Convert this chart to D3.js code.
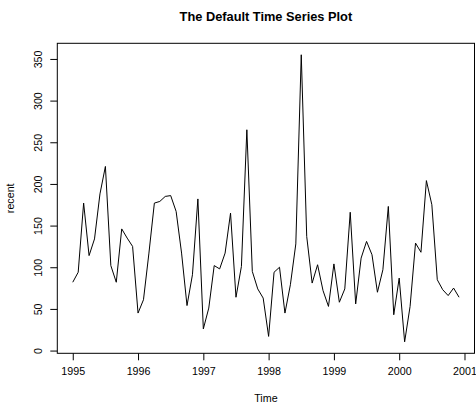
<!doctype html>
<html lang="en">
  <head>
    <meta charset="utf-8">
    <title>The Default Time Series Plot</title>
    <script src="https://d3js.org/d3.v7.min.js"></script>
    <style>
      body { margin: 0; background: white; }
      text { font-family: "Liberation Sans", Arial, sans-serif; fill: black; }
    </style>
  </head>
  <body onload='init()'>
    <div id='chart'></div>
    <script type="text/javascript">
    // monthly series, Jan 1995 .. Dec 2000
    var startYear = 1995;
    var recent = [
      82, 94, 177, 114, 134, 188, 221, 102, 82, 146, 135, 125,
      45, 61, 117, 177, 179, 185, 186, 167, 117, 54, 91, 182,
      26, 51, 102, 98, 117, 165, 64, 101, 265, 95, 74, 63,
      17, 94, 100, 45, 79, 128, 355, 137, 81, 103, 72, 53,
      104, 58, 74, 166, 56, 111, 131, 115, 70, 97, 173, 43,
      87, 10.5, 53, 129, 118, 204, 175, 85, 73, 66, 75, 64
    ];
    var xTicks = [1995, 1996, 1997, 1998, 1999, 2000, 2001];
    var yTicks = [0, 50, 100, 150, 200, 250, 300, 350];

    function init() {
        var W = 476, H = 407;
        var left = 57.3, right = 474.5, top = 43.3, bottom = 353.3;

        var data = recent.map(function(v, i) { return {t: startYear + i / 12, v: v}; });

        var svg = d3.select('#chart')
            .append('svg')
            .attr('width', W)
            .attr('height', H);

        // R style 4% padding on both axes
        var tExt = d3.extent(data, function(d) { return d.t; });
        var vExt = d3.extent(data, function(d) { return d.v; });
        var tPad = (tExt[1] - tExt[0]) * 0.04;
        var vPad = (vExt[1] - vExt[0]) * 0.04;

        var scale_x = d3.scaleLinear().domain([tExt[0] - tPad, tExt[1] + tPad]).range([left, right]);
        var scale_y = d3.scaleLinear().domain([vExt[0] - vPad, vExt[1] + vPad]).range([bottom, top]);

        // title
        svg.append('text')
            .attr('x', (left + right) / 2)
            .attr('y', 20.7)
            .attr('text-anchor', 'middle')
            .style('font-size', '12.8px')
            .style('font-weight', 'bold')
            .text('The Default Time Series Plot');

        // the series
        var line = d3.line()
            .x(function(d) { return scale_x(d.t); })
            .y(function(d) { return scale_y(d.v); });

        svg.append('path')
            .datum(data)
            .attr('d', line)
            .attr('fill', 'none')
            .attr('stroke', 'black')
            .attr('stroke-width', 1);

        // box
        svg.append('rect')
            .attr('x', left)
            .attr('y', top)
            .attr('width', right - left)
            .attr('height', bottom - top)
            .attr('fill', 'none')
            .attr('stroke', 'black')
            .attr('stroke-width', 1);

        // x axis
        var xAxis = svg.append('g')
            .attr('transform', 'translate(0,' + bottom + ')')
            .call(d3.axisBottom(scale_x)
                .tickValues(xTicks)
                .tickFormat(d3.format('d'))
                .tickSize(7)
                .tickPadding(7));
        xAxis.select('.domain').remove();
        xAxis.selectAll('text').style('font-size', '10.7px').attr('font-family', null);

        // y axis, labels rotated like R
        var yAxis = svg.append('g')
            .attr('transform', 'translate(' + left + ',0)')
            .call(d3.axisLeft(scale_y)
                .tickValues(yTicks)
                .tickSize(7));
        yAxis.select('.domain').remove();
        yAxis.selectAll('text')
            .attr('x', null).attr('dy', null)
            .attr('transform', 'translate(-15,0)rotate(-90)')
            .attr('text-anchor', 'middle')
            .style('font-size', '10.7px')
            .attr('font-family', null);

        // axis titles
        svg.append('text')
            .attr('x', (left + right) / 2)
            .attr('y', 402)
            .attr('text-anchor', 'middle')
            .style('font-size', '10.7px')
            .text('Time');

        svg.append('text')
            .attr('transform', 'translate(14,' + ((top + bottom) / 2) + ')rotate(-90)')
            .attr('text-anchor', 'middle')
            .style('font-size', '10.7px')
            .text('recent');
    }
    </script>
  </body>
</html>
